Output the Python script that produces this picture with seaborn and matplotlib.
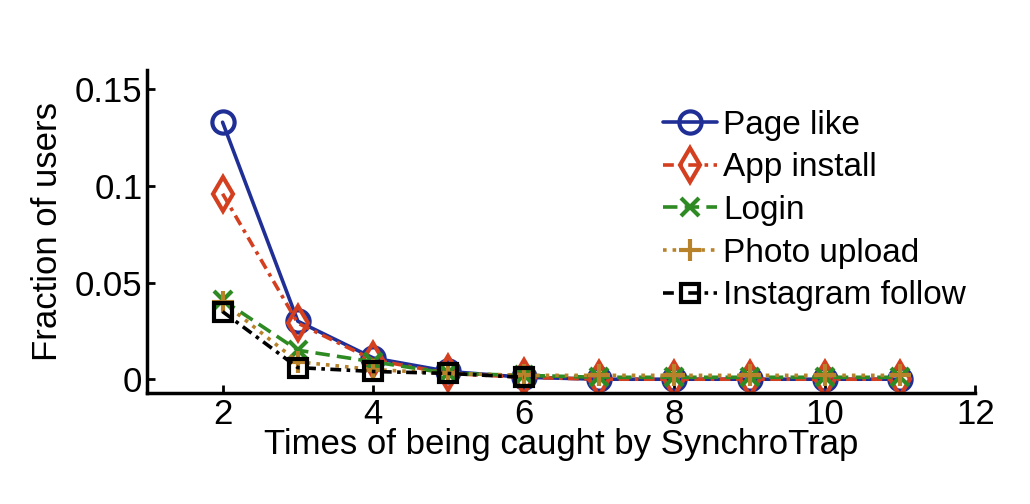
import matplotlib
matplotlib.use("Agg")
import matplotlib.pyplot as plt
import seaborn as sns
import pandas as pd

x_full = [2, 3, 4, 5, 6, 7, 8, 9, 10, 11]
page_like = [0.133, 0.030, 0.011, 0.004, 0.001, 0.0, 0.0, 0.0, 0.0, 0.0]
app_install = [0.096, 0.029, 0.010, 0.003, 0.001, 0.0, 0.0, 0.0, 0.0, 0.0]
login = [0.041, 0.015, 0.009, 0.003, 0.002, 0.001, 0.001, 0.001, 0.001, 0.001]
photo_upload = [0.040, 0.009, 0.005, 0.003, 0.002, 0.002, 0.002, 0.002, 0.002, 0.002]
x_insta = [2, 3, 4, 5, 6]
instagram = [0.035, 0.006, 0.004, 0.003, 0.001]

sns.set_style("ticks")
plt.rcParams['font.family'] = ['Liberation Sans', 'DejaVu Sans']
plt.rcParams['text.color'] = 'black'
plt.rcParams['axes.labelcolor'] = 'black'
plt.rcParams['xtick.color'] = 'black'
plt.rcParams['ytick.color'] = 'black'

fig = plt.figure(figsize=(10.3, 5.04), dpi=100)
ax = fig.add_axes([0.143, 0.22, 0.804, 0.641])

series = [
    ("Page like", x_full, page_like, "#1f2f96", "-", "o", 16),
    ("App install", x_full, app_install, "#d33f1f", (0, (3, 1.5, 1, 1.5)), "d", 17),
    ("Login", x_full, login, "#2e8a22", (0, (4, 2)), "x", 13),
    ("Photo upload", x_full, photo_upload, "#b8822a", ":", "+", 16),
    ("Instagram follow", x_insta, instagram, "#000000", (0, (3, 1.5, 1, 1.5)), "s", 13),
]
for name, xs, ys, c, ls, m, ms in series:
    df = pd.DataFrame({"x": xs, "y": ys})
    sns.lineplot(data=df, x="x", y="y", ax=ax, color=c, linestyle=ls, marker=m,
                 markersize=ms, markerfacecolor="none", markeredgecolor=c,
                 markeredgewidth=3, linewidth=2.6, label=name)

ax.set_xlim(1, 12)
ax.set_ylim(-0.0072, 0.16)
ax.set_xticks([2, 4, 6, 8, 10, 12])
ax.set_yticks([0, 0.05, 0.1, 0.15])
ax.set_yticklabels(["0", "0.05", "0.1", "0.15"])
ax.tick_params(labelsize=25, width=2, length=6, direction="in", colors="black")
for s in ["top", "right"]:
    ax.spines[s].set_visible(False)
for s in ["left", "bottom"]:
    ax.spines[s].set_linewidth(2.5)
    ax.spines[s].set_color("black")
ax.set_xlabel("Times of being caught by SynchroTrap", fontsize=25, labelpad=-2)
ax.set_ylabel("Fraction of users", fontsize=25, labelpad=8)
leg = ax.legend(loc="upper right", bbox_to_anchor=(1.025, 0.97), frameon=False, fontsize=24,
                handlelength=1.6, handletextpad=0.2, labelspacing=0.35)
fig.savefig("out.png", dpi=100)
